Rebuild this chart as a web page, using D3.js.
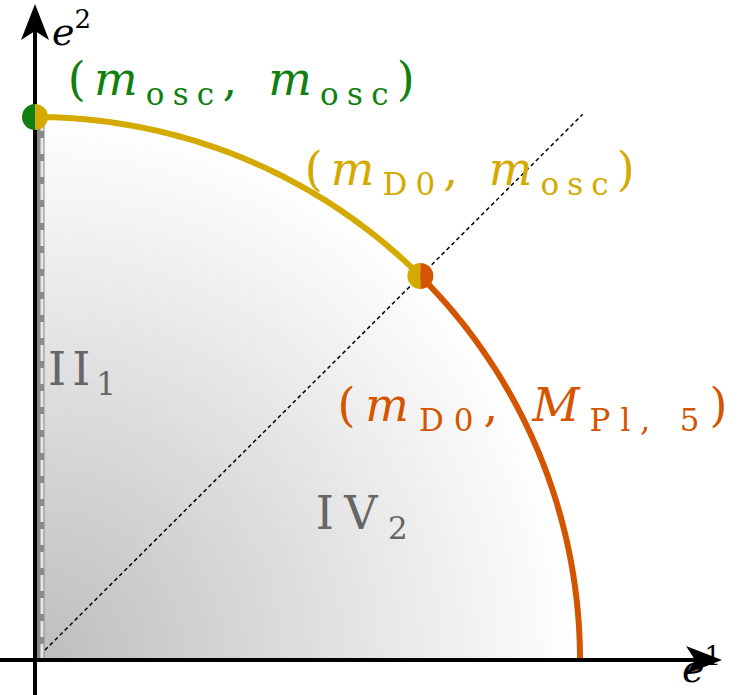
<!DOCTYPE html>
<html><head><meta charset="utf-8">
<script src="https://cdn.jsdelivr.net/npm/d3@7"></script>
<style>body{margin:0;background:#fff}</style></head>
<body><div id="chart"></div>
<script>
// quarter circle in (e1,e2), radius 1
const arcAngles = [0, 45, 90];            // degrees: orange 0-45, yellow 45-90
const arcColors = ["#d45500", "#d4aa00"];
const diagEnd = [1.005, 1.005];
const labels = [
  {x: 0.06, y: 1.04, w: 347, color: "#118011", parts: [["(", ""], ["m", "i"], ["osc", "s"], [", ", ""], ["m", "i"], ["osc", "s"], [")", ""]]},
  {x: 0.495, y: 0.875, w: 330, color: "#d4aa00", parts: [["(", ""], ["m", "i"], ["D0", "s"], [", ", ""], ["m", "i"], ["osc", "s"], [")", ""]]},
  {x: 0.555, y: 0.44, w: 390, color: "#d45500", parts: [["(", ""], ["m", "i"], ["D0", "s"], [", ", ""], ["M", "i"], ["Pl, 5", "s"], [")", ""]]},
  {x: 0.024, y: 0.506, w: 68, color: "#666", parts: [["II", ""], ["1", "s"]]},
  {x: 0.515, y: 0.242, w: 92, color: "#666", parts: [["IV", ""], ["2", "s"]]}
];

const W = 748, H = 695;
const x = d3.scaleLinear().domain([0, 1]).range([35, 580]);
const y = d3.scaleLinear().domain([0, 1]).range([660, 117]);
const R = x(1) - x(0);

const svg = d3.select("#chart").append("svg").attr("width", W).attr("height", H)
  .style("font-family", "'DejaVu Serif', 'Liberation Serif', serif");

const defs = svg.append("defs");
const grad = defs.append("radialGradient").attr("id", "g")
  .attr("gradientUnits", "userSpaceOnUse")
  .attr("cx", x(0)).attr("cy", y(0)).attr("r", R);
grad.append("stop").attr("offset", 0).attr("stop-color", "#bdbdbd");
grad.append("stop").attr("offset", 1).attr("stop-color", "#ffffff");

const pt = a => [x(Math.cos(a * Math.PI / 180)), y(Math.sin(a * Math.PI / 180))];

// filled quarter disc
const fillPts = d3.range(0, 90.5, 1).map(pt);
svg.append("path")
  .attr("d", "M" + x(0) + "," + y(0) + "L" + fillPts.map(p => p.join(",")).join("L") + "Z")
  .attr("fill", "url(#g)");

// dashed diagonal
svg.append("line")
  .attr("x1", x(0)).attr("y1", y(0)).attr("x2", x(diagEnd[0])).attr("y2", y(diagEnd[1]))
  .attr("stroke", "#000").attr("stroke-width", 1.5).attr("stroke-dasharray", "4,3");

// gray dashed boundary on e2 axis
svg.append("line").attr("x1", x(0) + 5).attr("x2", x(0) + 5).attr("y1", y(0)).attr("y2", y(1))
  .attr("stroke", "#8a8a8a").attr("stroke-width", 9);
svg.append("line").attr("x1", x(0) + 7).attr("x2", x(0) + 7).attr("y1", y(0)).attr("y2", y(1))
  .attr("stroke", "#e6e6e6").attr("stroke-width", 3).attr("stroke-dasharray", "16,7");

// arcs
const line = d3.line();
arcColors.forEach((c, i) => {
  const pts = d3.range(arcAngles[i], arcAngles[i + 1] + 0.01, 0.5).map(pt);
  svg.append("path").attr("d", line(pts)).attr("fill", "none")
    .attr("stroke", c).attr("stroke-width", 6);
});

// axes
const ax = svg.append("g").attr("stroke", "#000").attr("stroke-width", 4);
ax.append("line").attr("x1", 0).attr("x2", 705).attr("y1", y(0)).attr("y2", y(0));
ax.append("line").attr("x1", x(0)).attr("x2", x(0)).attr("y1", H).attr("y2", 22);
svg.append("path").attr("d", `M722,${y(0)} L686,${y(0) - 14} L695,${y(0)} L686,${y(0) + 14}Z`);
svg.append("path").attr("d", `M${x(0)},4 L${x(0) - 14},40 L${x(0)},31 L${x(0) + 14},40Z`);

// half-coloured dots
function halfDot(cx, cy, left, right) {
  const r = 13;
  svg.append("path").attr("d", `M${cx},${cy - r} A${r},${r} 0 0 0 ${cx},${cy + r}Z`).attr("fill", left);
  svg.append("path").attr("d", `M${cx},${cy - r} A${r},${r} 0 0 1 ${cx},${cy + r}Z`).attr("fill", right);
}
halfDot(x(0), y(1), "#118011", "#d4aa00");
const m = pt(45);
halfDot(m[0], m[1], "#d4aa00", "#d45500");

// axis labels
function axisLabel(px, py, base, sup) {
  const t = svg.append("text").attr("x", px).attr("y", py).attr("font-size", 38);
  t.append("tspan").attr("font-style", "italic").text(base);
  t.append("tspan").attr("font-size", 26).attr("dy", -17).text(sup);
}
axisLabel(52, 45, "e", "2");
axisLabel(682, 682, "e", "1");

// labels
labels.forEach(l => {
  const t = svg.append("text").attr("x", x(l.x)).attr("y", y(l.y))
    .attr("fill", l.color).attr("font-size", 46)
    .attr("textLength", l.w).attr("lengthAdjust", "spacing");
  let sub = false;
  l.parts.forEach(([s, k]) => {
    const ts = t.append("tspan").text(s);
    if (k === "i") ts.attr("font-style", "italic");
    if (k === "s") { ts.attr("font-size", 31).attr("dy", sub ? 0 : 10); sub = true; }
    else if (sub) { ts.attr("dy", -10); sub = false; }
  });
});
</script></body></html>
